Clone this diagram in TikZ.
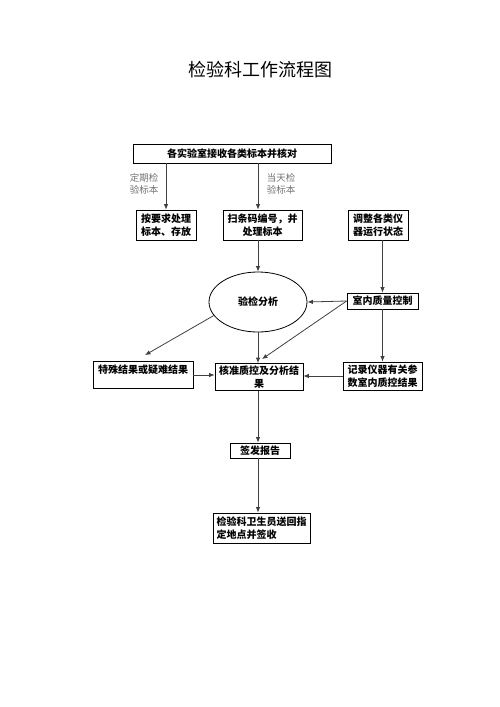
\documentclass[tikz,border=0pt]{standalone}
\usepackage{fontspec}
\setmainfont{Liberation Serif}
\newfontfamily\cjk{Noto Sans CJK SC}
\usepackage{tikz}
\usetikzlibrary{arrows.meta,positioning,calc,shapes.geometric}

\begin{document}
\begin{tikzpicture}[
  x=1pt, y=-1pt,
  box/.style={draw, thick, inner sep=1pt, align=center, font=\cjk\bfseries\fontsize{10}{12.5}\selectfont},
  note/.style={align=left, text=black!55, font=\cjk\fontsize{9.5}{12}\selectfont},
  arrow/.style={-{Latex[length=5.5pt,width=4.5pt]}, thick, draw=black!75}
]
\useasboundingbox (0,0) rectangle (500,707);

\node[font=\cjk\fontsize{18}{20}\selectfont] (title) at (260,70) {检验科工作流程图};

% top row
\node[box, minimum width=198pt, minimum height=19pt] (recv) at (232,153.5) {各实验室接收各类标本并核对};
\coordinate (spine) at (258,0);

\node[box, minimum width=60pt, minimum height=30pt] (store) at (166,225) {按要求处理\\标本、存放};
\node[box, minimum width=79pt, minimum height=30pt] (scan) at (262.5,225) {扫条码编号，并\\处理标本};
\node[box, minimum width=60pt, minimum height=30pt] (adjust) at (378,225) {调整各类仪\\器运行状态};

\node[note] (regular) at (144,184) {定期检\\验标本};
\node[note] (today) at (281,184) {当天检\\验标本};

% middle
\node[draw, thick, ellipse, minimum width=98pt, minimum height=60pt, font=\cjk\bfseries\fontsize{10}{12}\selectfont] (analyse) at (258,302) {验检分析};
\node[box, minimum width=71pt, minimum height=16pt] (iqc) at (382.5,301) {室内质量控制};

\node[box, minimum width=100pt, minimum height=27pt] (special) at (143,375) {特殊结果或疑难结果\\\mbox{}};
\node[box, minimum width=88pt, minimum height=27pt] (check) at (259,377) {核准质控及分析结\\果};
\node[box, minimum width=79pt, minimum height=28pt] (record) at (382.5,376) {记录仪器有关参\\数室内质控结果};

% bottom
\node[box, minimum width=60pt, minimum height=15pt] (sign) at (260,450.5) {签发报告};
\node[box, minimum width=97pt, minimum height=30pt, align=left] (return) at (261.5,528) {检验科卫生员送回指\\定地点并签收};

% connectors
\draw[arrow] (recv.south -| store.north) -- (store.north);
\draw[arrow] (recv.south -| spine) -- (scan.north -| spine);
\draw[arrow] (scan.south -| spine) -- (analyse.north);
\draw[arrow] (adjust.south -| iqc.north) -- (iqc.north);
\draw[arrow] (iqc.west) -- (analyse.east);
\draw[arrow] (iqc.west) -- ($(check.north)+(3,-4)$);
\draw[arrow] (analyse.south) -- (check.north -| spine);
\draw[arrow] (analyse.197) -- ($(special.north)+(2,-6)$);
\draw[arrow] (iqc.south) -- (record.north -| iqc.south);
\draw[arrow] (special.east) -- (check.west |- special.east);
\draw[arrow] (record.west) -- (check.east |- record.west);
\draw[arrow] (check.south -| spine) -- (sign.north -| spine);
\draw[arrow] (sign.south -| spine) -- (return.north -| spine);

\end{tikzpicture}
\end{document}
